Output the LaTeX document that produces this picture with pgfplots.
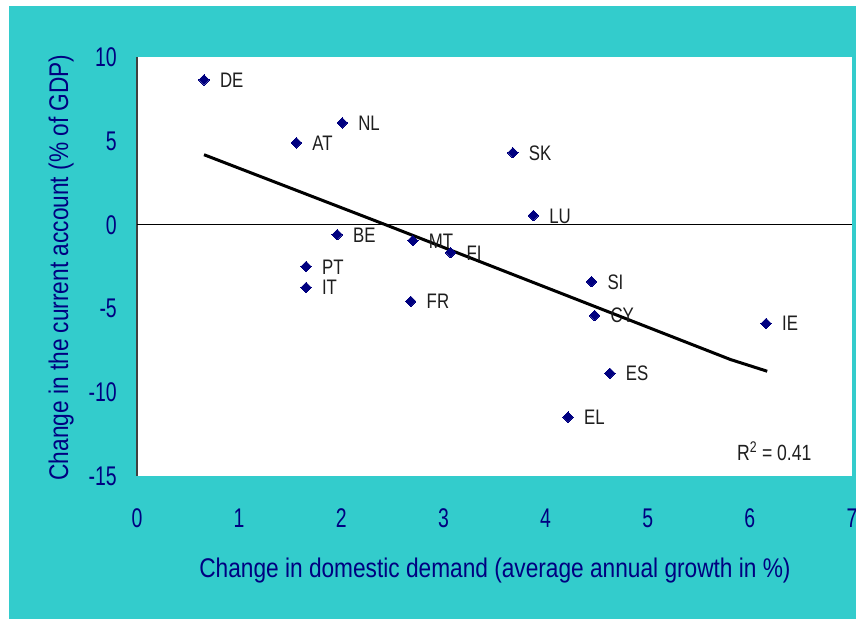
\documentclass[border=0pt]{standalone}
\usepackage{fontspec}
\setmainfont{Liberation Sans}
\usepackage{pgfplots}
\pgfplotsset{compat=1.18}
\newfontfamily\tickfont[FakeStretch=0.72]{Liberation Sans}
\newfontfamily\labfont[FakeStretch=0.84]{Liberation Sans}
\newfontfamily\ptfont[FakeStretch=0.8]{Liberation Sans}
\definecolor{bgteal}{RGB}{51,204,204}
\definecolor{navy}{RGB}{0,0,128}
\definecolor{lab}{RGB}{30,30,30}
\begin{document}
\begin{tikzpicture}[x=1pt,y=1pt]
\fill[white] (0,0) rectangle (856,619);
\fill[bgteal] (9,0) rectangle (856,613);
\begin{axis}[
  at={(137pt,143pt)}, anchor=south west,
  scale only axis, width=715pt, height=419pt,
  xmin=0, xmax=7, ymin=-15, ymax=10,
  xtick={0,1,2,3,4,5,6,7}, xticklabels={0,1,2,3,4,5,6,7},
  ytick={-15,-10,-5,0,5,10}, yticklabels={-15,-10,-5,0,5,10},
  major tick length=0pt,
  axis line style={draw=none},
  axis background/.style={fill=white},
  clip=false,
  xticklabel style={font=\tickfont\fontsize{27}{30}\selectfont, text=navy, anchor=base, yshift=-51pt, inner sep=0pt},
  yticklabel style={font=\tickfont\fontsize{27}{30}\selectfont, text=navy, anchor=base east, xshift=-20pt, yshift=-9.5pt, inner sep=0pt},
  xlabel={Change in domestic demand (average annual growth in \%)},
  ylabel={Change in the current account (\% of GDP)},
  xlabel style={at={(axis description cs:0.5007,-0.2434)}, anchor=base, font=\labfont\fontsize{27}{30}\selectfont, text=navy, inner sep=0pt},
  ylabel style={at={(axis description cs:-0.0965,0.4976)}, anchor=base, rotate=0, font=\labfont\fontsize{27}{30}\selectfont, text=navy, inner sep=0pt},
]
\draw[gray!50!black, line width=1.6pt] (rel axis cs:0,0) -- (rel axis cs:0,1);
\draw[black, line width=0.9pt] (axis cs:0,0) -- (axis cs:7,0);
\addplot[black, line width=3pt, no marks] coordinates {(0.656,4.17) (2.43,0) (4.53,-5.0) (5.81,-8.05) (6.17,-8.75)};
\addplot[only marks, mark=square*, mark size=3.7pt,
  mark options={rotate=45, fill=navy, draw=navy, line width=0pt},
  nodes near coords, point meta=explicit symbolic,
  every node near coord/.append style={anchor=base west, xshift=16pt, yshift=-7.5pt, inner sep=0pt, font=\ptfont\fontsize{21}{24}\selectfont, text=lab}]
  table[meta=label] {
x y label
0.656 8.63 DE
2.01 6.07 NL
1.56 4.88 AT
3.68 4.29 SK
3.88 0.54 LU
1.96 -0.60 BE
2.70 -0.95 MT
3.07 -1.67 FI
1.655 -2.50 PT
1.655 -3.75 IT
2.68 -4.58 FR
4.45 -3.40 SI
4.48 -5.42 CY
6.16 -5.90 IE
4.63 -8.87 ES
4.22 -11.49 EL
};
\node[anchor=base west, inner sep=0pt, font=\ptfont\fontsize{22}{24}\selectfont, text=lab] at (rel axis cs:0.839,0.038) {R\textsuperscript{2} = 0.41};
\end{axis}
\pgfresetboundingbox
\useasboundingbox (0,0) rectangle (856,619);
\end{tikzpicture}
\end{document}
